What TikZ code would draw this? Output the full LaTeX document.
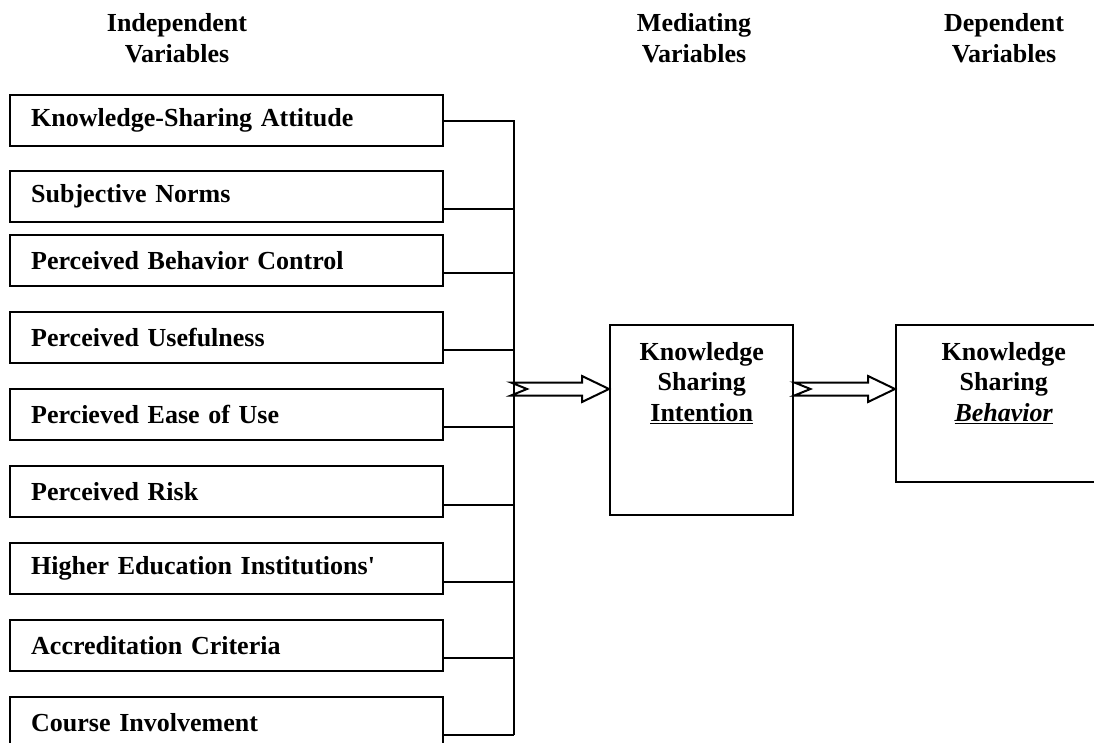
\documentclass[tikz,border=0pt]{standalone}
\usepackage{fontspec}
\setmainfont{Liberation Serif}
\usetikzlibrary{calc,positioning}

\tikzset{
    head/.style={align=center, inner sep=0pt, font=\bfseries\fontsize{26}{30.5}\selectfont},
    varbox/.style={draw, line width=2.4pt, anchor=north west, minimum height=51pt,
        text width=391pt, inner xsep=21pt, inner ysep=0pt, align=left,
        font=\bfseries\fontsize{26}{30.5}\selectfont},
    bigbox/.style={draw, line width=2.4pt, anchor=north west, inner sep=0pt},
    boxtext/.style={align=center, inner sep=0pt, font=\bfseries\fontsize{26}{30.5}\selectfont},
    wire/.style={line width=2.2pt}
}

\newcommand{\hollowarrow}[2]{%
    \draw[line width=2pt, fill=white] let \p1=(#1), \p2=(#2) in
        (\x1,\y1+6.5pt) -- (\x2-27pt,\y1+6.5pt) -- (\x2-27pt,\y1+13pt) -- (\x2,\y1)
        -- (\x2-27pt,\y1-13pt) -- (\x2-27pt,\y1-6.5pt) -- (\x1,\y1-6.5pt)
        -- (\x1+16pt,\y1) -- cycle;
}

\begin{document}
\begin{tikzpicture}[x=1pt, y=-1pt]
    \useasboundingbox (0,0) rectangle (1094,743);

    \node[head] (indep) at (177,38) {Independent\\Variables};
    \node[head] (medi) at (694,38) {Mediating\\Variables};
    \node[head] (depv) at (1004,38) {Dependent\\Variables};

    \node[varbox] (att) at (9,94) {Knowledge-Sharing Attitude};
    \node[varbox] (norm) at (9,170) {Subjective Norms};
    \node[varbox] (pbc) at (9,234) {Perceived Behavior Control};
    \node[varbox] (use) at (9,311) {Perceived Usefulness};
    \node[varbox] (ease) at (9,388) {Percieved Ease of Use};
    \node[varbox] (risk) at (9,465) {Perceived Risk};
    \node[varbox] (hei) at (9,542) {Higher Education Institutions\textquotesingle};
    \node[varbox] (accr) at (9,619) {Accreditation Criteria};
    \node[varbox] (course) at (9,696) {Course Involvement};

    \node[bigbox, minimum width=183pt, minimum height=190pt] (ksi) at (609,324) {};
    \node[boxtext, below=18pt of ksi.north] (ksitext) {Knowledge\\Sharing\\\underline{Intention}};

    \node[bigbox, minimum width=215pt, minimum height=157pt] (ksb) at (895,324) {};
    \node[boxtext, below=18pt of ksb.north] (ksbtext) {Knowledge\\Sharing\\\underline{\textit{Behavior}}};

    \coordinate (busend) at (514,735);
    \draw[wire] (att.east) -| (busend);

    \coordinate (c2) at ($(norm.north east)+(0,39)$);
    \coordinate (c3) at ($(pbc.north east)+(0,39)$);
    \coordinate (c4) at ($(use.north east)+(0,39)$);
    \coordinate (c5) at ($(ease.north east)+(0,39)$);
    \coordinate (c6) at ($(risk.north east)+(0,40)$);
    \coordinate (c7) at ($(hei.north east)+(0,40)$);
    \coordinate (c8) at ($(accr.north east)+(0,39)$);
    \coordinate (c9) at ($(course.north east)+(0,39)$);
    \draw[wire] (c2) -- (c2 -| busend);
    \draw[wire] (c3) -- (c3 -| busend);
    \draw[wire] (c4) -- (c4 -| busend);
    \draw[wire] (c5) -- (c5 -| busend);
    \draw[wire] (c6) -- (c6 -| busend);
    \draw[wire] (c7) -- (c7 -| busend);
    \draw[wire] (c8) -- (c8 -| busend);
    \draw[wire] (c9) -- (busend);

    \coordinate (split) at (511,389);
    \hollowarrow{split}{split -| ksi.west}
    \hollowarrow{ksi.east |- split}{split -| ksb.west}
\end{tikzpicture}
\end{document}
